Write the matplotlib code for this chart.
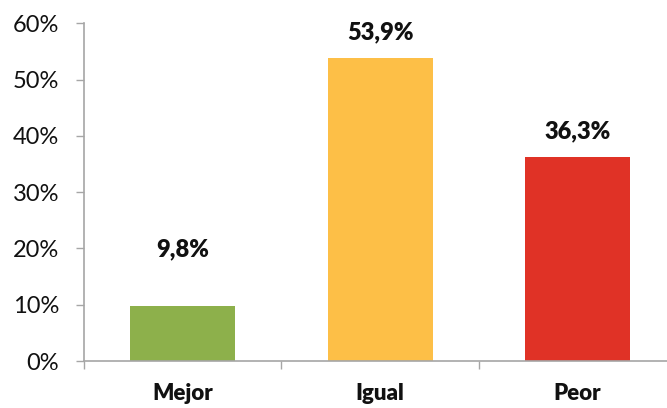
import matplotlib
matplotlib.use("Agg")
import matplotlib.pyplot as plt
import matplotlib.ticker as mticker

# data
categories = ["Mejor", "Igual", "Peor"]
values = [9.8, 53.9, 36.3]
value_labels = ["9,8%", "53,9%", "36,3%"]
bar_colors = ["#8DB04B", "#FDBF47", "#E03226"]

plt.rcParams['font.family'] = ['Lato', 'DejaVu Sans']

fig = plt.figure(figsize=(6.67, 4.08), dpi=100)
ax = fig.add_axes([0.126, 0.115, 0.888, 0.828])

x = list(range(len(categories)))
ax.bar(x, values, width=0.532, color=bar_colors, zorder=2)

ax.set_xlim(-0.5, len(categories) - 0.5)
ax.set_ylim(0, 60)

# y axis as percents
ax.yaxis.set_major_locator(mticker.MultipleLocator(10))
ax.yaxis.set_major_formatter(mticker.FuncFormatter(lambda v, p: f"{v:.0f}%"))
ax.tick_params(axis='y', length=6, width=1, color='#A6A6A6', pad=12,
               labelsize=17, labelcolor='#111111')

# category boundaries as major ticks, names on minor ticks
ax.set_xticks([i - 0.5 for i in range(len(categories) + 1)])
ax.set_xticklabels([])
ax.set_xticks(x, minor=True)
ax.set_xticklabels(categories, minor=True, fontweight='heavy')
ax.tick_params(axis='x', which='major', direction='out', length=6, width=1, color='#A6A6A6')
ax.tick_params(axis='x', which='minor', length=0, pad=16, labelsize=16, labelcolor='#111111')

for side in ('top', 'right'):
    ax.spines[side].set_visible(False)
for side in ('left', 'bottom'):
    ax.spines[side].set_color('#A6A6A6')
    ax.spines[side].set_linewidth(1.2)

# value labels above bars
label_pad = [41, 18, 18]
for xi, v, lab, pad in zip(x, values, value_labels, label_pad):
    ax.annotate(lab, (xi, v), xytext=(0, pad), textcoords='offset points',
                ha='center', va='center', fontsize=17, fontweight='heavy', color='#111111')

fig.savefig("out.png", dpi=100)
